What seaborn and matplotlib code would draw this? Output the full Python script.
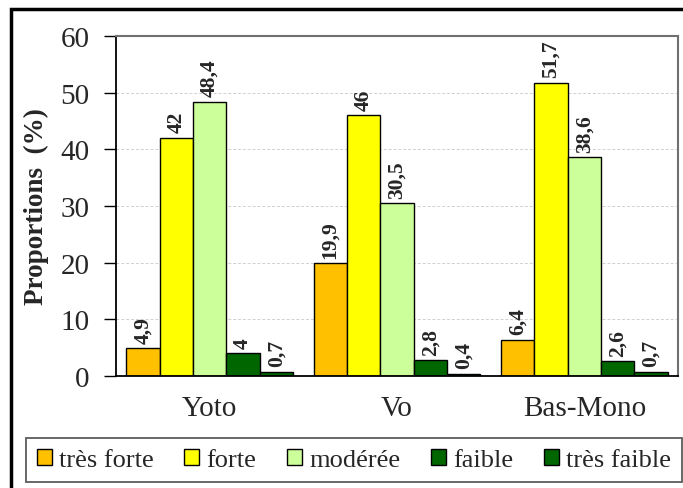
import pandas as pd
import matplotlib.pyplot as plt
import seaborn as sns
from matplotlib.patches import Rectangle

sites = ["Yoto", "Vo", "Bas-Mono"]
niveaux = ["très forte", "forte", "modérée", "faible", "très faible"]
tres_forte = [4.9, 19.9, 6.4]
forte = [42, 46, 51.7]
moderee = [48.4, 30.5, 38.6]
faible = [4, 2.8, 2.6]
tres_faible = [0.7, 0.4, 0.7]
couleurs = ["#FFC000", "#FFFF00", "#CCFF99", "#006600", "#006600"]

series = [tres_forte, forte, moderee, faible, tres_faible]
rows = []
for niv, vals in zip(niveaux, series):
    for s, v in zip(sites, vals):
        rows.append({"site": s, "niveau": niv, "prop": v})
df = pd.DataFrame(rows)

sns.set_style("white")
plt.rcParams["font.family"] = ["Liberation Serif", "DejaVu Serif"]

fig = plt.figure(figsize=(6.83, 4.89), dpi=100)
ax = fig.add_axes([116 / 683, 1 - 377 / 489, 562 / 683, 340 / 489])

sns.barplot(data=df, x="site", y="prop", hue="niveau", order=sites,
            hue_order=niveaux, palette=dict(zip(niveaux, couleurs)),
            width=0.89, edgecolor="black", linewidth=1, saturation=1,
            ax=ax, legend=True)

for cont, vals in zip(ax.containers, series):
    labs = [("%g" % v).replace(".", ",") for v in vals]
    ax.bar_label(cont, labels=labs, rotation=90, padding=4,
                 fontsize=15.5, fontweight="bold")

ax.set_ylim(0, 60)
ax.set_yticks(range(0, 61, 10))
ax.yaxis.grid(True, color="#d0d0d0", linestyle=(0, (3, 2)), linewidth=0.7)
ax.set_axisbelow(True)
ax.tick_params(axis="y", labelsize=21, length=9, width=1, direction="out",
               left=True, pad=10, color="black")
ax.tick_params(axis="x", labelsize=21, length=0, pad=14)
ax.set_xlabel("")
ax.set_ylabel("Proportions  (%)", fontsize=19.5, fontweight="bold", labelpad=8)

for side in ["left", "bottom"]:
    ax.spines[side].set_color("black")
    ax.spines[side].set_linewidth(1.3)
for side in ["top", "right"]:
    ax.spines[side].set_color("#707070")
    ax.spines[side].set_linewidth(1.5)

handles, labels = ax.get_legend_handles_labels()
ax.get_legend().remove()
leg = fig.legend(handles, labels, loc="center",
                 bbox_to_anchor=(26 / 683, 4 / 489, 656 / 683, 48 / 489),
                 ncol=5, mode="expand", fontsize=19, frameon=True,
                 fancybox=False, edgecolor="#333333",
                 handlelength=0.57, handleheight=0.57, handletextpad=0.27,
                 columnspacing=0.8, borderaxespad=0, borderpad=0.4)
leg.get_frame().set_linewidth(1.3)

fig.add_artist(Rectangle((11 / 683, -0.1), 1.2, 1.1 - 10 / 489,
                         transform=fig.transFigure, fill=False,
                         edgecolor="black", linewidth=2.5))

fig.savefig("out.png", dpi=100)
